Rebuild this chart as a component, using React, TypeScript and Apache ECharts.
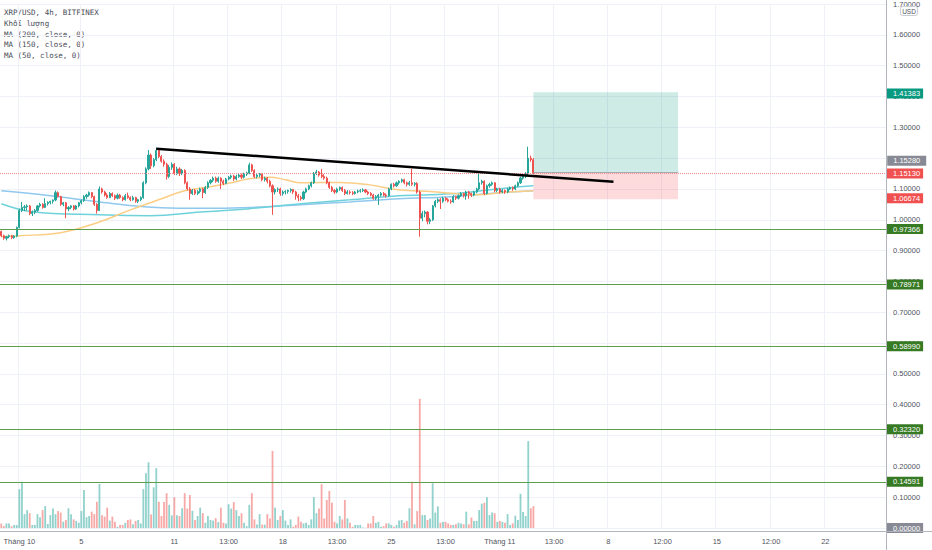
import React, { useEffect, useRef } from 'react';
import * as echarts from 'echarts';

// ---------- axis slots & tick labels ----------
const TOTAL_SLOTS = 343;
const xTickIndex = [7, 31, 67, 88, 109, 130, 151, 172, 193, 214, 235, 256, 277, 298, 319];
const xTickText = ['Tháng 10', '5', '11', '13:00', '18', '13:00', '25', '13:00', 'Tháng 11', '13:00', '8', '12:00', '15', '12:00', '22'];

// ---------- candles [open, high, low, close] ----------
const candles: number[][] = [
  [0.962, 0.965, 0.944, 0.948], [0.948, 0.952, 0.935, 0.940], [0.940, 0.948, 0.933, 0.945], [0.945, 0.952, 0.940, 0.948],
  [0.948, 0.951, 0.937, 0.942], [0.942, 0.950, 0.938, 0.947], [0.947, 0.978, 0.943, 0.975], [0.975, 1.036, 0.972, 1.030],
  [1.030, 1.058, 1.025, 1.040], [1.040, 1.048, 1.028, 1.042], [1.042, 1.050, 1.030, 1.045], [1.045, 1.048, 1.015, 1.020],
  [1.020, 1.030, 1.012, 1.025], [1.025, 1.035, 1.018, 1.030], [1.030, 1.048, 1.026, 1.045], [1.045, 1.055, 1.040, 1.050],
  [1.050, 1.054, 1.036, 1.040], [1.040, 1.070, 1.038, 1.052], [1.052, 1.060, 1.046, 1.056], [1.056, 1.062, 1.050, 1.060],
  [1.060, 1.066, 1.052, 1.064], [1.064, 1.095, 1.060, 1.088], [1.088, 1.092, 1.072, 1.075], [1.075, 1.078, 1.045, 1.050],
  [1.050, 1.058, 1.044, 1.055], [1.055, 1.058, 1.005, 1.035], [1.035, 1.044, 1.028, 1.040], [1.040, 1.048, 1.034, 1.045],
  [1.045, 1.048, 1.030, 1.035], [1.035, 1.048, 1.032, 1.045], [1.045, 1.058, 1.040, 1.055], [1.055, 1.066, 1.050, 1.062],
  [1.062, 1.080, 1.058, 1.075], [1.075, 1.084, 1.068, 1.080], [1.080, 1.092, 1.075, 1.088], [1.088, 1.090, 1.070, 1.075],
  [1.075, 1.078, 1.045, 1.050], [1.050, 1.054, 1.020, 1.030], [1.030, 1.108, 1.028, 1.100], [1.100, 1.104, 1.085, 1.090],
  [1.090, 1.094, 1.075, 1.080], [1.080, 1.086, 1.068, 1.072], [1.072, 1.090, 1.070, 1.085], [1.085, 1.089, 1.074, 1.078],
  [1.078, 1.082, 1.064, 1.070], [1.070, 1.085, 1.066, 1.080], [1.080, 1.084, 1.068, 1.072], [1.072, 1.076, 1.060, 1.065],
  [1.065, 1.084, 1.062, 1.078], [1.078, 1.088, 1.068, 1.072], [1.072, 1.076, 1.060, 1.065], [1.065, 1.078, 1.062, 1.072],
  [1.072, 1.075, 1.055, 1.060], [1.060, 1.068, 1.054, 1.065], [1.065, 1.076, 1.060, 1.072], [1.072, 1.125, 1.068, 1.120],
  [1.120, 1.170, 1.115, 1.165], [1.165, 1.226, 1.160, 1.210], [1.210, 1.215, 1.165, 1.175], [1.175, 1.200, 1.170, 1.195],
  [1.195, 1.234, 1.190, 1.225], [1.225, 1.228, 1.200, 1.205], [1.205, 1.210, 1.185, 1.190], [1.190, 1.196, 1.172, 1.180],
  [1.180, 1.185, 1.130, 1.140], [1.140, 1.178, 1.135, 1.170], [1.170, 1.186, 1.162, 1.180], [1.180, 1.184, 1.145, 1.150],
  [1.150, 1.172, 1.145, 1.165], [1.165, 1.170, 1.142, 1.150], [1.150, 1.165, 1.145, 1.160], [1.160, 1.164, 1.115, 1.120],
  [1.120, 1.124, 1.095, 1.100], [1.100, 1.106, 1.065, 1.085], [1.085, 1.100, 1.080, 1.095], [1.095, 1.100, 1.080, 1.085],
  [1.085, 1.096, 1.080, 1.092], [1.092, 1.104, 1.086, 1.100], [1.100, 1.104, 1.070, 1.088], [1.088, 1.110, 1.084, 1.105],
  [1.105, 1.125, 1.100, 1.120], [1.120, 1.132, 1.115, 1.128], [1.128, 1.140, 1.122, 1.135], [1.135, 1.140, 1.120, 1.125],
  [1.125, 1.140, 1.120, 1.135], [1.135, 1.138, 1.100, 1.125], [1.125, 1.130, 1.112, 1.118], [1.118, 1.136, 1.115, 1.132],
  [1.132, 1.142, 1.128, 1.138], [1.138, 1.146, 1.132, 1.142], [1.142, 1.146, 1.126, 1.132], [1.132, 1.146, 1.128, 1.140],
  [1.140, 1.150, 1.136, 1.145], [1.145, 1.150, 1.132, 1.138], [1.138, 1.153, 1.134, 1.148], [1.148, 1.156, 1.142, 1.152],
  [1.152, 1.185, 1.148, 1.178], [1.178, 1.182, 1.155, 1.160], [1.160, 1.164, 1.135, 1.140], [1.140, 1.150, 1.134, 1.145],
  [1.145, 1.152, 1.138, 1.148], [1.148, 1.150, 1.125, 1.130], [1.130, 1.140, 1.124, 1.135], [1.135, 1.138, 1.118, 1.125],
  [1.125, 1.130, 1.105, 1.110], [1.110, 1.115, 1.016, 1.090], [1.090, 1.102, 1.082, 1.098], [1.098, 1.105, 1.090, 1.100],
  [1.100, 1.104, 1.078, 1.085], [1.085, 1.095, 1.078, 1.090], [1.090, 1.096, 1.082, 1.092], [1.092, 1.098, 1.085, 1.095],
  [1.095, 1.102, 1.088, 1.098], [1.098, 1.100, 1.084, 1.090], [1.090, 1.094, 1.065, 1.078], [1.078, 1.084, 1.060, 1.072],
  [1.072, 1.078, 1.062, 1.068], [1.068, 1.094, 1.064, 1.090], [1.090, 1.104, 1.086, 1.100], [1.100, 1.114, 1.096, 1.110],
  [1.110, 1.124, 1.105, 1.120], [1.120, 1.155, 1.116, 1.150], [1.150, 1.162, 1.145, 1.155], [1.155, 1.158, 1.140, 1.145],
  [1.145, 1.165, 1.135, 1.140], [1.140, 1.148, 1.130, 1.135], [1.135, 1.140, 1.115, 1.120], [1.120, 1.124, 1.100, 1.105],
  [1.105, 1.110, 1.090, 1.095], [1.095, 1.100, 1.084, 1.090], [1.090, 1.104, 1.086, 1.100], [1.100, 1.108, 1.094, 1.105],
  [1.105, 1.108, 1.090, 1.095], [1.095, 1.100, 1.080, 1.085], [1.085, 1.096, 1.082, 1.090], [1.090, 1.095, 1.082, 1.088],
  [1.088, 1.093, 1.080, 1.085], [1.085, 1.094, 1.082, 1.090], [1.090, 1.098, 1.086, 1.093], [1.093, 1.100, 1.088, 1.095],
  [1.095, 1.102, 1.090, 1.097], [1.097, 1.100, 1.086, 1.090], [1.090, 1.094, 1.080, 1.085], [1.085, 1.090, 1.076, 1.080],
  [1.080, 1.084, 1.065, 1.070], [1.070, 1.080, 1.064, 1.075], [1.075, 1.084, 1.048, 1.080], [1.080, 1.090, 1.075, 1.085],
  [1.085, 1.090, 1.076, 1.080], [1.080, 1.085, 1.072, 1.078], [1.078, 1.104, 1.075, 1.100], [1.100, 1.118, 1.096, 1.115],
  [1.115, 1.120, 1.105, 1.110], [1.110, 1.124, 1.106, 1.120], [1.120, 1.128, 1.114, 1.125], [1.125, 1.134, 1.120, 1.130],
  [1.130, 1.133, 1.115, 1.120], [1.120, 1.124, 1.108, 1.115], [1.115, 1.126, 1.110, 1.120], [1.120, 1.165, 1.110, 1.115],
  [1.115, 1.122, 1.108, 1.118], [1.118, 1.122, 1.085, 1.090], [1.090, 1.095, 0.945, 1.005], [1.005, 1.028, 0.995, 1.020],
  [1.020, 1.030, 1.008, 1.025], [1.025, 1.028, 0.985, 0.995], [0.995, 1.006, 0.986, 1.000], [1.000, 1.048, 0.996, 1.045],
  [1.045, 1.064, 1.040, 1.060], [1.060, 1.070, 1.054, 1.065], [1.065, 1.070, 1.035, 1.060], [1.060, 1.075, 1.055, 1.070],
  [1.070, 1.074, 1.060, 1.065], [1.065, 1.070, 1.056, 1.060], [1.060, 1.066, 1.052, 1.058], [1.058, 1.080, 1.055, 1.075],
  [1.075, 1.078, 1.064, 1.070], [1.070, 1.082, 1.066, 1.078], [1.078, 1.090, 1.074, 1.085], [1.085, 1.088, 1.072, 1.078],
  [1.078, 1.094, 1.065, 1.090], [1.090, 1.094, 1.068, 1.085], [1.085, 1.088, 1.074, 1.080], [1.080, 1.094, 1.076, 1.090],
  [1.090, 1.104, 1.086, 1.100], [1.100, 1.152, 1.096, 1.120], [1.120, 1.130, 1.114, 1.125], [1.125, 1.128, 1.080, 1.085],
  [1.085, 1.114, 1.082, 1.110], [1.110, 1.120, 1.104, 1.115], [1.115, 1.124, 1.110, 1.120], [1.120, 1.122, 1.090, 1.095],
  [1.095, 1.104, 1.090, 1.100], [1.100, 1.104, 1.085, 1.090], [1.090, 1.100, 1.086, 1.095], [1.095, 1.098, 1.084, 1.090],
  [1.090, 1.104, 1.086, 1.100], [1.100, 1.108, 1.096, 1.105], [1.105, 1.108, 1.094, 1.100], [1.100, 1.114, 1.096, 1.110],
  [1.110, 1.124, 1.106, 1.120], [1.120, 1.140, 1.116, 1.135], [1.135, 1.145, 1.130, 1.140], [1.140, 1.155, 1.135, 1.150],
  [1.150, 1.237, 1.145, 1.200], [1.200, 1.208, 1.188, 1.195], [1.195, 1.200, 1.148, 1.1513],
];

// ---------- volume (scaled units) ----------
const volumes = [
  1.5, 0.6, 1.5, 1.5, 0.6, 1, 1, 12.6, 15, 4.5,
  5.8, 4.8, 1, 1, 4.5, 3.5, 5.8, 7.1, 1.3, 4.2,
  6.3, 4.5, 5.5, 5, 2, 2.6, 6.4, 4.5, 2.8, 2.3,
  1.7, 5.5, 12.3, 3.5, 3.9, 5.3, 4.5, 8.5, 14.3, 4.1,
  3.7, 6.6, 2.4, 3.7, 2, 0.4, 1, 1, 1.7, 2.6,
  2.8, 1.2, 2.3, 2.6, 1.5, 12.6, 17.8, 21.3, 4.4, 13.2,
  19.4, 8.5, 3.9, 8.4, 11.3, 7.5, 4.1, 10, 4.1, 3.9,
  6.4, 11.3, 6.3, 10.7, 5.6, 2.6, 3.9, 6.6, 4.8, 1.7,
  3.9, 2.6, 2.4, 3.2, 1.9, 6.6, 1.7, 1.5, 7.7, 6.3,
  8.4, 5.8, 3.9, 4.8, 1.7, 0.6, 7.5, 11.3, 2.8, 1.1,
  4.5, 1.1, 1.1, 4.5, 3.1, 25, 6.6, 2.6, 3.9, 5.8,
  2.4, 1,
  2.8, 0.4, 1, 3.7, 2, 1.5, 1.7, 1, 2.8, 10,
  4.8, 6.3, 14.2, 3.1, 9.1, 12, 8.2, 2, 1.5, 3.9,
  2.8, 9.1, 3.1, 1.7, 0.4, 1, 1, 1,
  0.2, 0.1, 1.5, 1.5, 3.9, 1.7, 2, 0.4, 0.6, 1.5,
  1.5, 1, 0.4, 1, 2.4, 2.6, 1.7, 2.3, 6.4, 15,
  1.2, 5.5, 41.9, 4.2, 4.2, 2.6, 3.1, 14.5, 5, 7,
  1.7, 2, 2, 1.5, 1, 1, 1.2, 1.7, 1.5, 1.2,
  5.3, 1.2, 3.4, 2.3, 2.3, 5.8, 7.9, 8.2, 10, 4.2,
  5, 4.8, 2, 2.3, 2, 1.7, 4.5,
  1, 1.5, 4, 2.6, 11.1, 5.2, 3.9, 28.2, 6.4, 7.1,
];

// ---------- moving averages (read at sample candles) ----------
const ma200Idx = [0, 19, 38, 62, 77, 96, 116, 135, 154, 174, 193, 206];
const ma200Val = [1.094, 1.078, 1.058, 1.039, 1.037, 1.040, 1.049, 1.058, 1.068, 1.075, 1.088, 1.094];
const ma150Idx = [0, 12, 38, 58, 77, 96, 116, 135, 154, 174, 193, 206];
const ma150Val = [1.052, 1.026, 1.016, 1.013, 1.025, 1.036, 1.052, 1.065, 1.078, 1.084, 1.101, 1.110];
const ma50Idx = [0, 7, 23, 38, 50, 62, 71, 81, 89, 96, 104, 110, 116, 131, 142, 154, 167, 174, 185, 193, 206];
const ma50Val = [0.945, 0.948, 0.958, 0.993, 1.032, 1.068, 1.094, 1.107, 1.120, 1.133, 1.138, 1.130, 1.120, 1.121, 1.114, 1.097, 1.091, 1.086, 1.081, 1.088, 1.094];

// ---------- drawings ----------
const levelValues = [0.97366, 0.78971, 0.5899, 0.3232, 0.14591];
const lastPrice = 1.1513;
const positionEntry = 1.1528;
const positionTarget = 1.41383;
const positionStop = 1.06674;
const positionStartIdx = 206;
const positionEndIdx = 262;
const trendStart = [60, 1.2305];
const trendEnd = [237, 1.123];

const legendLines = ['XRP/USD, 4h, BITFINEX', 'Khối lượng', 'MA (200, close, 0)', 'MA (150, close, 0)', 'MA (50, close, 0)'];

const UP = '#26a69a';
const DOWN = '#ef5350';
const FONT = '"Liberation Sans", Arial, sans-serif';
const HIDDEN_LINE = { color: 'rgba(0,0,0,0)', width: 0 };

function priceLabel(text: string, bg: string) {
  return {
    show: true,
    position: 'end',
    formatter: text,
    backgroundColor: bg,
    color: '#ffffff',
    fontSize: 7.5,
    lineHeight: 8,
    padding: [1, 3, 1, 6],
    distance: 1,
    fontFamily: FONT,
  };
}

export default function App() {
  const ref = useRef<HTMLDivElement>(null);

  useEffect(() => {
    if (!ref.current) return;
    const chart = echarts.init(ref.current, undefined, { renderer: 'svg' });
    const tickSet = new Set(xTickIndex);
    const categories = Array.from({ length: TOTAL_SLOTS }, (_, i) => String(i));

    const candleData = candles.map((c) => [c[0], c[3], c[2], c[1]]);
    const volumeData = volumes.map((v, i) => {
      const c = candles[i];
      const up = c[3] >= c[0];
      return { value: v, itemStyle: { color: up ? 'rgba(38,166,154,0.5)' : 'rgba(239,83,80,0.5)' } };
    });
    const pairs = (idx: number[], val: number[]) => idx.map((x, k) => [x, val[k]]);

    const markLineData: any[] = [
      ...levelValues.map((v) => ({
        yAxis: v,
        lineStyle: { color: '#5e9f4c', width: 1, type: 'solid' },
        label: priceLabel(v.toFixed(5), '#367a24'),
      })),
      {
        yAxis: lastPrice,
        lineStyle: { color: '#f28b8b', width: 1, type: 'dotted' },
        label: priceLabel(lastPrice.toFixed(5), '#f0504f'),
      },
      { yAxis: positionTarget, lineStyle: HIDDEN_LINE, label: priceLabel(positionTarget.toFixed(5), '#089981') },
      { yAxis: positionStop, lineStyle: HIDDEN_LINE, label: priceLabel(positionStop.toFixed(5), '#f0504f') },
      { yAxis: 0, lineStyle: HIDDEN_LINE, label: priceLabel((0).toFixed(5), '#878a94') },
      [
        { coord: [positionStartIdx, positionEntry], lineStyle: { color: '#a7abb5', width: 1, type: 'solid' }, label: { show: false } },
        { coord: [positionEndIdx, positionEntry] },
      ],
      [
        { coord: trendStart, lineStyle: { color: '#000000', width: 2.5, type: 'solid' }, label: { show: false } },
        { coord: trendEnd },
      ],
    ];

    const option: any = {
      animation: false,
      backgroundColor: '#ffffff',
      textStyle: { fontFamily: FONT },
      grid: { left: 0, right: 46, top: 4, bottom: 22, containLabel: false },
      xAxis: {
        type: 'category',
        data: categories,
        boundaryGap: true,
        offset: 3,
        axisLine: { show: false },
        axisTick: { show: false },
        axisLabel: {
          interval: (index: number) => tickSet.has(index),
          formatter: (value: string) => {
            const k = xTickIndex.indexOf(Number(value));
            return k >= 0 ? xTickText[k] : '';
          },
          fontSize: 7.5,
          color: '#50535e',
          margin: 6,
          fontFamily: FONT,
        },
        splitLine: {
          show: true,
          interval: (index: number) => tickSet.has(index),
          lineStyle: { color: '#eef1f7', width: 1 },
        },
      },
      yAxis: [
        {
          type: 'value',
          position: 'right',
          min: 0,
          max: 1.7,
          interval: 0.1,
          axisLine: { show: false },
          axisTick: { show: false },
          axisLabel: {
            formatter: (v: number) => v.toFixed(5),
            fontSize: 7.5,
            color: '#50535e',
            margin: 7,
            fontFamily: FONT,
          },
          splitLine: { show: true, lineStyle: { color: '#eef1f7', width: 1 } },
        },
        { type: 'value', min: 0, max: 170, show: false },
      ],
      series: [
        {
          type: 'bar',
          name: 'Khối lượng',
          yAxisIndex: 1,
          data: volumeData,
          barWidth: '70%',
          silent: true,
          z: 1,
        },
        {
          type: 'line',
          name: 'MA (200, close, 0)',
          data: pairs(ma200Idx, ma200Val),
          smooth: 0.4,
          symbol: 'none',
          silent: true,
          lineStyle: { color: '#90c8ee', width: 1.5 },
          z: 2,
        },
        {
          type: 'line',
          name: 'MA (150, close, 0)',
          data: pairs(ma150Idx, ma150Val),
          smooth: 0.4,
          symbol: 'none',
          silent: true,
          lineStyle: { color: '#6fd2da', width: 1.5 },
          z: 2,
        },
        {
          type: 'line',
          name: 'MA (50, close, 0)',
          data: pairs(ma50Idx, ma50Val),
          smooth: 0.4,
          symbol: 'none',
          silent: true,
          lineStyle: { color: '#fbcd85', width: 1.5 },
          z: 2,
        },
        {
          type: 'candlestick',
          name: 'XRP/USD',
          data: candleData,
          barWidth: 1.6,
          clip: false,
          silent: true,
          z: 3,
          itemStyle: { color: UP, color0: DOWN, borderColor: UP, borderColor0: DOWN, borderWidth: 1 },
          markArea: {
            silent: true,
            data: [
              [
                { coord: [positionStartIdx, positionTarget], itemStyle: { color: 'rgba(8,153,129,0.2)' } },
                { coord: [positionEndIdx, positionEntry] },
              ],
              [
                { coord: [positionStartIdx, positionEntry], itemStyle: { color: 'rgba(242,54,69,0.18)' } },
                { coord: [positionEndIdx, positionStop] },
              ],
            ],
          },
          markLine: {
            silent: true,
            symbol: ['none', 'none'],
            label: { show: false },
            data: markLineData,
          },
          markPoint: {
            silent: true,
            symbol: 'rect',
            symbolSize: [39, 10],
            data: [
              {
                coord: [TOTAL_SLOTS - 1, positionEntry],
                symbolOffset: [22, -12],
                itemStyle: { color: '#878a94' },
                label: {
                  show: true,
                  position: 'inside',
                  formatter: positionEntry.toFixed(5),
                  color: '#ffffff',
                  fontSize: 7.5,
                  fontFamily: FONT,
                },
              },
            ],
          },
        },
      ],
      graphic: [
        ...legendLines.map((t, k) => ({
          type: 'text',
          x: 4,
          y: 12.3 + k * 10.85,
          silent: true,
          style: {
            text: t,
            fill: '#4a4d57',
            fontSize: 7.5,
            fontFamily: '"DejaVu Sans Mono", monospace',
            verticalAlign: 'middle',
          },
        })),
        {
          type: 'line',
          silent: true,
          shape: { x1: 886.5, y1: 0, x2: 886.5, y2: 550 },
          style: { stroke: '#b2b5be', lineWidth: 1 },
          z: 10,
        },
        {
          type: 'line',
          silent: true,
          shape: { x1: 0, y1: 531.5, x2: 932, y2: 531.5 },
          style: { stroke: '#b2b5be', lineWidth: 1 },
          z: 10,
        },
        {
          type: 'rect',
          silent: true,
          shape: { x: 900.5, y: 6.5, width: 17, height: 9, r: 2 },
          style: { fill: '#ffffff', stroke: '#c9ccd4', lineWidth: 1 },
          z: 10,
        },
        {
          type: 'text',
          silent: true,
          x: 909,
          y: 11,
          z: 11,
          style: {
            text: 'USD',
            fill: '#50535e',
            fontSize: 6.5,
            fontFamily: FONT,
            align: 'center',
            verticalAlign: 'middle',
          },
        },
      ],
    };

    chart.setOption(option);
    return () => chart.dispose();
  }, []);

  return (
    <div
      ref={ref}
      style={{ position: 'fixed', left: 0, top: 0, width: 932, height: 550, background: '#ffffff' }}
    />
  );
}
